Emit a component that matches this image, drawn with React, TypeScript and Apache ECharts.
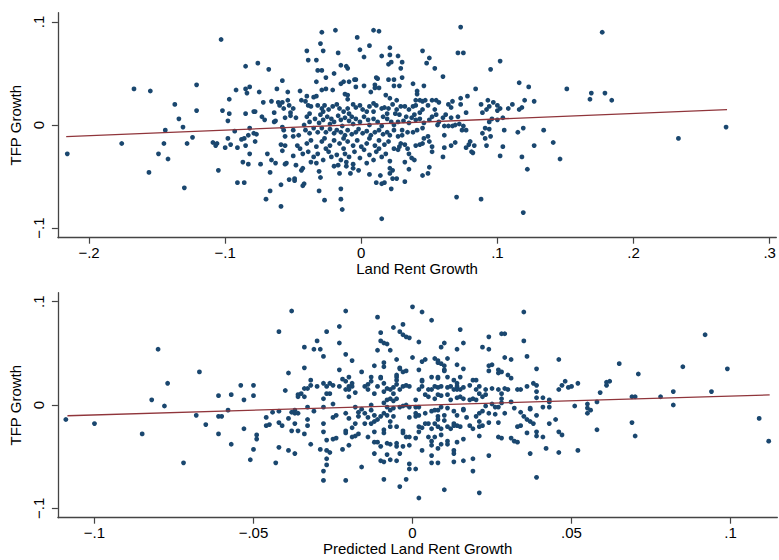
import React, { useEffect, useRef } from "react";
import * as echarts from "echarts";

// Values are in thousandths (divide by 1000): [land rent growth, TFP growth]
const topLandRentVsTfp: number[][] = [
  [-216,-28],[-176,-18],[-167,35],[-155,33],[-156,-46],[-149,-28],[-145,-18],[-144,-5],[-142,-33],[-137,20],[-134,6],[-131,-2],[-130,-61],[-128,-18],[-124,-12],[-121,39],[-121,14],
  [-103,83],[-109,-17],[-107,-20],[-106,-18],[-105,-44],[-102,14],[-98,4],[-97,25],[-97,11],[-98,-13],[-96,-19],[-100,-22],[-92,34],[-93,-6],[-91,-56],[-91,-22],[-86,-56],[-87,-36],[-83,-38],[-88,-14],[-86,-13],[-85,11],[-85,57],[-85,35],[-84,31],[-82,37],[-85,-20],[-82,-28],[-82,-3],[-83,-10],[-79,13],[-78,13],[-79,-8],[-77,-9],[-78,-16],[-76,60],[-75,32],[-72,22],[-73,8],[-71,5],[-74,-38],[-70,-72],[-69,-28],[-67,-46],[-68,54],[-67,-64],[-66,23],[-64,12],[-64,3],[-63,4],[-66,-34],[-63,-37],[-62,35],[-61,22],[-60,19],[-58,43],[-58,22],[-57,16],[-56,7],[-58,-2],[-57,-5],[-59,-19],[-56,-20],[-58,-25],[-59,-58],[-59,-79],[-56,-11],[-55,-37],[-56,-38],[-54,24],[-54,32],[-53,19],[-52,12],[-50,16],[-52,9],[-50,-5],[-50,-11],[-48,7],[-46,-10],[-47,-20],[-45,33],[-44,24],[-45,-23],[-43,-28],[-50,-30],[-48,-39],[-53,-53],[-49,-52],[-49,-54],[-42,-57],[-43,-59],[-43,-42],[-44,-44],
  [-39,63],[-40,72],[-33,63],[-33,42],[-32,53],[-29,53],[-29,90],[-30,79],[-28,72],[-31,-45],[-30,-51],[-31,-64],[-27,-73],[-26,46],[-20,50],[-19,92],[-17,70],[-15,58],[-20,-40],[-17,-39],[-16,-47],[-15,-62],[-15,-72],[-14,-82],[-15,40],[-13,42],[-11,57],[-10,55],[-9,42],[-5,44],[-4,44],[-3,85],[-1,73],[2,66],[6,77],[9,92],[13,91],[15,67],[10,39],[11,46],[12,45],[-2,-44],[-6,-42],[-8,-47],[-11,-40],[6,-48],[14,-49],[15,-57],[11,-56],[15,-91],
  // dense centre block
  [-40,28],[-35,27],[-33,28],[-29,34],[-26,35],[-21,34],[-12,30],[-10,25],[-10,29],[-4,37],[2,38],[7,32],[10,36],[13,36],[18,29],[21,26],
  [-41,23],[-39,19],[-37,18],[-32,19],[-29,16],[-27,19],[-24,15],[-21,18],[-18,20],[-16,16],[-13,13],[-10,16],[-6,20],[-4,17],[-1,19],[1,15],[4,13],[6,18],[9,21],[11,19],[15,16],[17,17],[20,16],[23,20],
  [-40,8],[-38,11],[-34,6],[-30,10],[-28,5],[-25,8],[-22,6],[-20,3],[-17,9],[-15,5],[-12,7],[-9,4],[-7,8],[-4,6],[-1,3],[2,8],[5,5],[9,6],[12,3],[16,8],[19,6],[22,3],
  [-41,-5],[-38,-8],[-35,-3],[-32,-7],[-29,-3],[-26,-7],[-23,-4],[-20,-8],[-18,-5],[-15,-7],[-12,-10],[-10,-5],[-7,-9],[-4,-7],[-2,-4],[1,-8],[4,-6],[7,-10],[10,-7],[13,-5],[16,-9],[19,-7],[21,-10],
  [-40,-18],[-37,-15],[-33,-21],[-29,-16],[-27,-13],[-23,-20],[-20,-15],[-16,-18],[-13,-13],[-10,-16],[-6,-20],[-3,-15],[0,-21],[4,-18],[6,-13],[10,-20],[13,-15],[17,-19],[20,-16],
  [-39,-26],[-35,-31],[-32,-28],[-28,-34],[-24,-26],[-22,-31],[-18,-29],[-15,-34],[-12,-28],[-9,-31],[-5,-26],[-1,-32],[2,-24],[6,-29],[9,-34],[11,-26],[15,-31],[18,-28],[21,-35],[-33,-37],[-11,-36],[4,-37],
  [-42,0],[-31,2],[-23,1],[-14,-1],[-6,1],[6,0],[15,-1],[-38,3],[-28,13],[-9,11],[9,13],[19,11],[-13,-23],[13,-23],[-26,-23],[-37,-36],[-6,-38],
  [21,75],[21,68],[20,59],[22,61],[27,67],[30,61],[29,55],[30,46],[20,44],[24,44],[24,38],[28,38],[26,24],[26,15],[29,18],[32,18],[35,15],[38,18],[40,19],[38,40],[41,33],[41,30],[46,38],[40,24],[43,24],[45,23],[47,24],[49,19],[45,15],[43,12],[39,10],[37,7],[33,8],[28,10],[25,11],[24,0],[27,3],[31,4],[35,2],[40,5],[43,6],[46,2],[50,5],[52,8],[55,10],[54,15],[52,24],[55,24],[57,22],[60,47],[54,55],[48,60],[50,65],[45,72],[73,95],[71,70],[75,70],[84,35],[95,54],[102,62],[116,41],[123,37],[78,28],[73,26],[67,23],[64,20],[66,17],[73,20],[77,12],[62,10],[60,7],[57,3],[61,-1],[64,-1],[67,-1],[69,0],[72,1],[75,-1],[74,-5],[77,-5],[71,8],[66,7],[88,20],[93,24],[97,22],[94,18],[92,15],[89,12],[100,19],[100,14],[102,16],[108,16],[111,20],[116,15],[118,17],[120,24],[127,23],[104,7],[100,5],[96,6],[94,3],[91,-3],[94,-4],[89,-8],[91,-13],[92,-20],[95,-11],[105,-5],[115,-7],[119,-3],[134,-5],[146,-33],[141,-17],[127,-20],[122,-43],[118,-31],[104,-21],[102,-30],[83,-20],[82,-27],[81,-26],[80,-16],[79,-19],[77,-22],[69,-17],[66,-20],[61,-22],[60,-31],[61,-10],[56,0],[52,-21],[52,-26],[50,-16],[49,-11],[45,-18],[46,-13],[43,-19],[40,-20],[39,-34],[37,-32],[35,-28],[34,-23],[32,-19],[29,-18],[28,-21],[27,-24],[24,-23],[27,-11],[30,-10],[34,-7],[38,-7],[41,-5],[45,-3],[30,-5],[24,-5],[35,-43],[32,-36],[32,-55],[26,-52],[23,-52],[23,-44],[21,-42],[21,-47],[17,-56],[22,-62],[45,-49],[49,-47],[50,-41],[70,-70],[88,-72],[119,-85],
  [151,35],[177,90],[169,31],[168,25],[184,24],[179,31],[233,-13],[268,-2],
];

// Values are in thousandths: [predicted land rent growth, TFP growth]
const bottomPredictedVsTfp: number[][] = [
  [-109,-14],[-100,-18],[-85,-28],[-82,5],[-80,54],[-78,-1],[-77,21],[-72,-56],[-68,-10],[-67,32],[-65,-19],[-61,9],[-61,-11],[-60,-11],[-61,-28],[-58,-5],[-57,10],[-57,-38],[-54,19],[-53,5],[-53,-23],[-51,-53],[-50,19],[-50,9],[-50,-43],[-49,-33],[-49,-29],
  [-46,-20],[-45,-19],[-46,-12],[-44,-7],[-42,-6],[-42,-17],[-41,-20],[-42,71],[-43,-56],[-42,-41],[-39,-44],[-37,-47],[-39,-13],[-38,-7],[-40,14],[-39,31],[-38,91],[-38,-25],[-36,-25],[-37,-18],[-37,-8],[-36,-8],[-37,-5],[-36,10],[-36,8],[-35,11],[-34,-28],[-34,8],[-34,16],[-33,16],[-33,-2],[-32,19],[-32,24],[-31,-6],[-33,-14],[-33,-20],[-32,-38],[-34,56],[-34,36],[-31,54],[-30,18],[-30,62],[-29,54],[-28,47],[-29,-43],[-28,-64],[-28,-73],[-27,-44],[-27,-52],[-27,-58],[-26,-46],[-27,71],[-28,-18],[-28,-26],[-28,-2],[-28,6],[-27,11],[-28,21],[-27,18],[-26,21],[-25,19],[-26,11],[-25,1],[-25,-12],[-24,-10],[-24,-32],[-25,-33],[-27,-34],[-23,60],[-23,76],[-23,34],[-23,18],[-22,-43],[-21,91],[-21,49],[-21,-73],[-22,25],[-21,23],[-20,18],[-19,18],[-21,15],[-20,15],[-19,43],[-20,27],[-19,21],[-18,12],[-18,-2],[-20,8],[-21,-8],[-20,-13],[-21,-25],[-21,-27],[-20,-39],[-19,-22],[-19,-31],[-18,-30],[-17,-28],[-18,-18],[-17,-7],[-17,-11],[-16,-4],[-16,32],[-16,-60],[-15,-18],[-15,-8],[-15,18],[-14,15],[-14,20],[-13,23],[-13,27],[-12,38],[-11,85],[-11,53],[-10,70],[-10,62],[-9,41],[-9,37],[-10,27],[-11,18],[-12,11],[-13,0],[-13,-5],[-12,-10],[-14,-12],[-13,-18],[-12,-16],[-11,-14],[-12,-26],[-14,-31],[-12,-36],[-11,-36],[-10,-40],[-12,-47],[-10,-54],[-9,-55],[-9,-72],[-9,60],[-8,59],[-7,53],[-6,75],[-10,26],[-9,21],[-9,13],[-8,16],[-7,15],[-5,24],[-5,27],[-5,20],[-6,11],[-5,6],[-4,15],[-3,18],[-2,19],[-1,18],[-9,2],[-8,5],[-7,6],[-6,4],[-8,-2],[-7,-5],[-6,-3],[-4,-2],[-3,-1],[-2,0],[-10,-11],[-9,-8],[-8,-10],[-7,-16],[-7,-21],[-5,-21],[-3,-25],[-3,-27],[-2,-31],[-1,-31],[-6,-11],[-9,-24],[-9,-27],[-8,-37],[-7,-38],[-5,-37],[-5,-40],[-3,-40],[-1,-39],[-8,-48],[-7,-53],[-5,-54],[-4,-47],[-4,-79],[-2,-72],[-1,-62],[-1,-57],[1,-62],[2,-90],[-5,44],[-4,36],[-4,35],[-3,32],[-2,33],[-5,29],[-6,17],[-4,71],[-3,68],[-2,66],[-1,65],[-3,78],[0,95],[2,61],[0,46],[2,34],[3,42],[3,24],[3,18],[2,15],[1,5],[-1,-2],[1,-2],[2,-2],[1,-8],[-1,-12],[1,-11],[2,-10],[2,-21],[3,-22],[2,-26],[1,-32],
  [3,90],[6,82],[15,73],[16,60],[10,60],[9,56],[4,44],[7,45],[8,43],[8,41],[9,40],[10,38],[10,34],[10,33],[11,45],[14,54],[14,39],[16,35],[6,27],[8,26],[8,27],[11,27],[13,24],[14,21],[14,18],[15,27],[3,23],[5,15],[6,15],[7,18],[8,17],[9,18],[11,17],[12,18],[13,15],[14,15],[15,15],[16,17],[18,19],[19,24],[20,24],[20,15],[21,18],[21,11],[23,15],[4,10],[5,8],[7,6],[8,10],[9,9],[11,10],[12,5],[14,7],[15,8],[16,6],[18,5],[19,6],[20,5],[22,8],[23,10],[25,16],[27,15],[28,11],[29,16],[30,15],[30,29],[31,26],[29,46],[31,44],[27,34],[27,31],[28,32],[25,39],[24,38],[24,33],[24,54],[22,56],[24,66],[28,69],[29,69],[35,62],[36,47],[35,90],[39,35],[46,44],[33,15],[34,15],[36,18],[38,21],[39,19],[39,13],[39,7],[41,7],[43,5],[43,3],[46,15],[47,19],[48,23],[49,17],[50,18],[52,21],[51,-1],[43,-2],[41,-2],[37,-4],[37,-3],[34,-7],[35,-11],[36,-14],[37,-16],[38,-18],[39,-10],[43,-18],[45,-14],[46,-26],[47,-29],[39,-26],[39,-30],[41,-31],[36,-27],[34,-20],[33,-21],[32,-35],[33,-36],[31,-32],[28,-32],[27,-31],[29,-8],[32,-3],[31,3],[28,6],[28,2],[27,-2],[26,-2],[25,1],[23,-1],[22,-6],[21,-8],[24,-8],[26,-9],[27,-17],[24,-17],[22,-20],[21,-21],[21,-16],[20,-11],[19,-23],[18,-20],[17,-12],[16,-4],[15,-21],[14,-20],[13,-20],[13,-18],[12,-23],[11,-21],[9,-23],[8,-21],[7,-18],[6,-23],[5,-18],[4,-18],[4,-8],[6,-6],[7,-5],[8,-5],[9,-2],[11,-3],[13,-6],[14,-10],[16,-5],[10,-10],[8,-11],[8,-14],[10,-15],[9,-29],[11,-35],[11,-38],[9,-38],[8,-42],[6,-35],[6,-39],[6,-49],[8,-56],[6,-56],[3,-44],[5,-31],[7,-31],[13,-44],[13,-47],[13,-55],[14,-36],[16,-33],[16,-54],[19,-52],[19,-64],[21,-30],[24,-49],[10,-82],[21,-85],[37,-47],[39,-70],[42,-42],[46,-46],[52,-44],
  [55,1],[55,-3],[56,-5],[55,-8],[58,3],[59,12],[61,19],[61,22],[62,23],[65,40],[58,-24],[69,-17],[70,-30],[69,8],[70,8],[71,30],[78,8],[82,13],[82,0],[85,37],[92,68],[94,13],[99,35],[109,-13],[112,-35],
];

// Linear fit end points (actual units)
const topFitLine: number[][] = [[-0.2168, -0.0113], [0.2687, 0.0149]];
const bottomFitLine: number[][] = [[-0.1085, -0.0104], [0.1123, 0.0097]];

const topXTicks = [-0.2, -0.1, 0, 0.1, 0.2, 0.3];
const bottomXTicks = [-0.1, -0.05, 0, 0.05, 0.1];
const yTicks = [-0.1, 0, 0.1];

const SCALE = 1000;
const FONT = "'Liberation Sans', Arial, Helvetica, sans-serif";
const AXIS_COLOR = "#444";
const DOT_COLOR = "#1a476f";
const LINE_COLOR = "#90353b";

const fmt = (v: number): string => {
  if (v === 0) return "0";
  const s = String(Math.abs(v)).replace(/^0/, "");
  return (v < 0 ? "\u2212" : "") + s;
};

function makeXAxis(gridIndex: number, min: number, max: number, ticks: number[], name: string) {
  return {
    type: "value",
    gridIndex,
    min,
    max,
    name,
    nameLocation: "middle",
    nameGap: 22,
    nameTextStyle: { fontFamily: FONT, fontSize: 15, color: "#000" },
    axisLine: { show: true, onZero: false, lineStyle: { color: AXIS_COLOR, width: 1.3 } },
    axisTick: { show: true, length: 6, inside: false, customValues: ticks, lineStyle: { color: AXIS_COLOR, width: 1.2 } },
    axisLabel: { customValues: ticks, formatter: fmt, margin: 7, fontFamily: FONT, fontSize: 15, color: "#000" },
    splitLine: { show: false },
  };
}

function makeYAxis(gridIndex: number, min: number, max: number) {
  return {
    type: "value",
    gridIndex,
    min,
    max,
    name: "TFP Growth",
    nameLocation: "middle",
    nameGap: 30,
    nameTextStyle: { fontFamily: FONT, fontSize: 15, color: "#000" },
    axisLine: { show: true, onZero: false, lineStyle: { color: AXIS_COLOR, width: 1.3 } },
    axisTick: { show: true, length: 6, inside: false, customValues: yTicks, lineStyle: { color: AXIS_COLOR, width: 1.2 } },
    axisLabel: { customValues: yTicks, formatter: fmt, rotate: 90, margin: 12, fontFamily: FONT, fontSize: 15, color: "#000" },
    splitLine: { show: false },
  };
}

export default function App() {
  const ref = useRef<HTMLDivElement>(null);
  useEffect(() => {
    if (!ref.current) return;
    const chart = echarts.init(ref.current, undefined, { renderer: "svg" });
    const toValues = (arr: number[][]) => arr.map(([x, y]) => [x / SCALE, y / SCALE]);
    chart.setOption({
      animation: false,
      backgroundColor: "#fff",
      grid: [
        { left: 53.3, top: 12.7, width: 723, height: 225, containLabel: false },
        { left: 53.3, top: 292.7, width: 724, height: 225, containLabel: false },
      ],
      xAxis: [
        makeXAxis(0, -0.2229, 0.3049, topXTicks, "Land Rent Growth"),
        makeXAxis(1, -0.1115, 0.1147, bottomXTicks, "Predicted Land Rent Growth"),
      ],
      yAxis: [makeYAxis(0, -0.1094, 0.109), makeYAxis(1, -0.1091, 0.1087)],
      series: [
        {
          type: "scatter",
          xAxisIndex: 0,
          yAxisIndex: 0,
          data: toValues(topLandRentVsTfp),
          symbolSize: 4.8,
          itemStyle: { color: DOT_COLOR, opacity: 1 },
          silent: true,
        },
        {
          type: "line",
          xAxisIndex: 0,
          yAxisIndex: 0,
          data: topFitLine,
          symbol: "none",
          lineStyle: { color: LINE_COLOR, width: 1.3 },
          silent: true,
          z: 3,
        },
        {
          type: "scatter",
          xAxisIndex: 1,
          yAxisIndex: 1,
          data: toValues(bottomPredictedVsTfp),
          symbolSize: 4.8,
          itemStyle: { color: DOT_COLOR, opacity: 1 },
          silent: true,
        },
        {
          type: "line",
          xAxisIndex: 1,
          yAxisIndex: 1,
          data: bottomFitLine,
          symbol: "none",
          lineStyle: { color: LINE_COLOR, width: 1.3 },
          silent: true,
          z: 3,
        },
      ],
    });
    return () => chart.dispose();
  }, []);
  return (
    <div
      ref={ref}
      style={{ position: "fixed", left: 0, top: 0, width: 779, height: 560, background: "#fff" }}
    />
  );
}
